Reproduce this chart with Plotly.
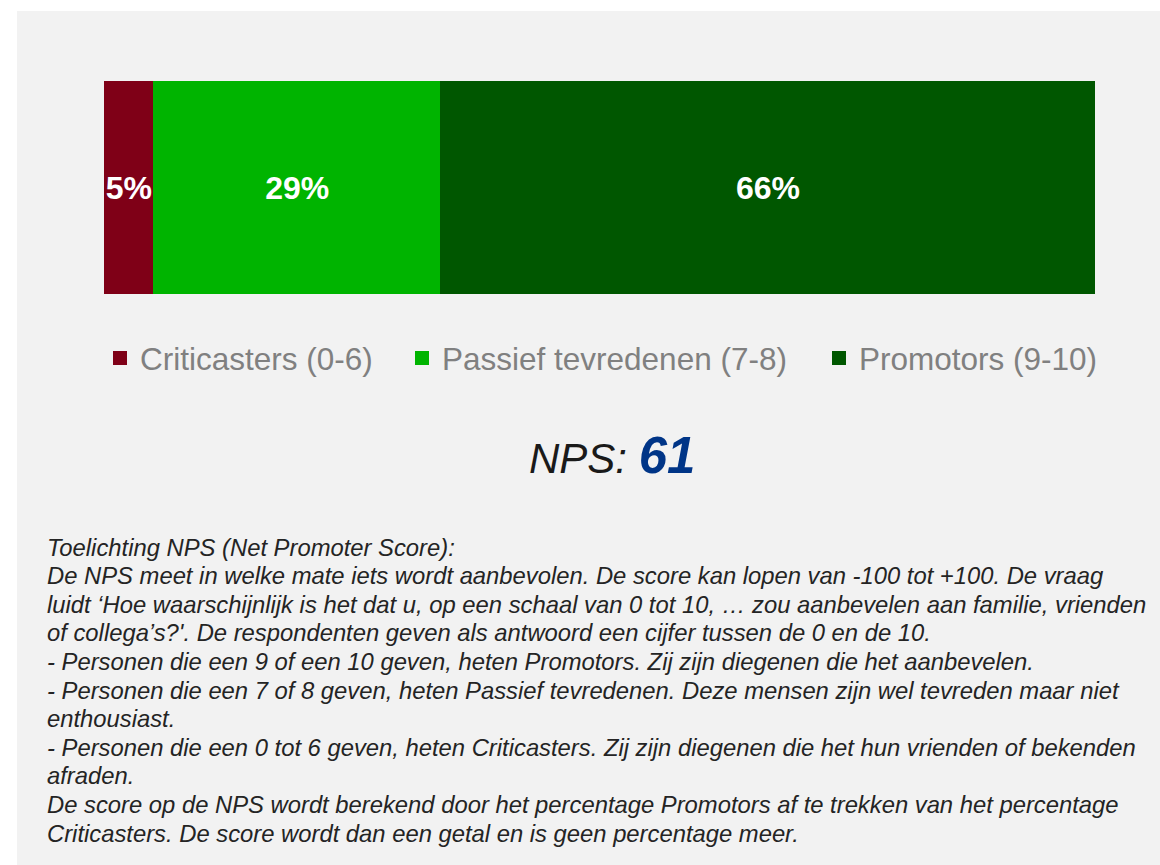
import plotly.graph_objects as go

categories = ["Criticasters (0-6)", "Passief tevredenen (7-8)", "Promotors (9-10)"]
values = [5, 29, 66]
colors = ["#7F0017", "#00B400", "#005700"]
nps_score = 61
explanation_lines = [
    "Toelichting NPS (Net Promoter Score):",
    "De NPS meet in welke mate iets wordt aanbevolen. De score kan lopen van -100 tot +100. De vraag",
    "luidt \u2018Hoe waarschijnlijk is het dat u, op een schaal van 0 tot 10, \u2026 zou aanbevelen aan familie, vrienden",
    "of collega\u2019s?'. De respondenten geven als antwoord een cijfer tussen de 0 en de 10.",
    "- Personen die een 9 of een 10 geven, heten Promotors. Zij zijn diegenen die het aanbevelen.",
    "- Personen die een 7 of 8 geven, heten Passief tevredenen. Deze mensen zijn wel tevreden maar niet",
    "enthousiast.",
    "- Personen die een 0 tot 6 geven, heten Criticasters. Zij zijn diegenen die het hun vrienden of bekenden",
    "afraden.",
    "De score op de NPS wordt berekend door het percentage Promotors af te trekken van het percentage",
    "Criticasters. De score wordt dan een getal en is geen percentage meer.",
]

FONT = "Liberation Sans, Arial, sans-serif"
OFF = 0  # body margin removed via post_script
W, H = 1160, 865
ML, MT = 104 - OFF, 81 - OFF
PW, PH = 991, 213
MR, MB = W - ML - PW, H - MT - PH


def px(xs):
    return (xs - OFF - ML) / PW


def py(ys):
    return (MT + PH - (ys - OFF)) / PH


legend_ids = ["legend", "legend2", "legend3"]
legend_x = [100, 402, 819]

fig = go.Figure()
for name, v, c, lid in zip(categories, values, colors, legend_ids):
    fig.add_trace(go.Bar(
        name=name, x=[v], y=[0], orientation="h", width=1, legend=lid,
        marker=dict(color=c, line=dict(width=2, color=c)),
        texttemplate="%{x}%", textposition="inside", insidetextanchor="middle",
        constraintext="none", textangle=0,
        insidetextfont=dict(family=FONT, size=32, color="white", weight="bold"),
        hoverinfo="skip",
    ))

fig.add_shape(type="rect", xref="paper", yref="paper", layer="below",
              x0=px(17), x1=px(1200), y0=py(900), y1=py(11),
              fillcolor="#F2F2F2", line=dict(width=0))

fig.add_annotation(
    xref="paper", yref="paper", x=px(612), y=py(455), xanchor="center", yanchor="middle",
    showarrow=False,
    text=f"<i>NPS: </i><b><i><span style='color:#003587;font-size:51px'>{nps_score}</span></i></b>",
    font=dict(family=FONT, size=42, color="#1A1A1A"),
)

line_h = 28.6
for i, line in enumerate(explanation_lines):
    fig.add_annotation(
        xref="paper", yref="paper", x=px(45), y=py(547 + i * line_h),
        xanchor="left", yanchor="middle", showarrow=False, align="left",
        text="<i>" + line + "</i>",
        font=dict(family=FONT, size=23.8, color="#242424"),
    )

legend_common = dict(orientation="h", yanchor="middle",
                     font=dict(family=FONT, size=31.5, color="#808080"),
                     bgcolor="rgba(0,0,0,0)", itemclick=False, itemdoubleclick=False,
                     xanchor="left")

fig.update_layout(
    width=W, height=H, barmode="stack",
    margin=dict(l=ML, r=MR, t=MT, b=MB),
    paper_bgcolor="white", plot_bgcolor="rgba(0,0,0,0)",
    showlegend=True,
    legend=dict(x=px(legend_x[0]), y=py(358), **legend_common),
    legend2=dict(x=px(legend_x[1]), y=py(358), **legend_common),
    legend3=dict(x=px(legend_x[2]), y=py(358), **legend_common),
    xaxis=dict(range=[0, 100], visible=False, fixedrange=True),
    yaxis=dict(range=[-0.5, 0.5], visible=False, fixedrange=True),
)

fig.write_html(
    "out.html",
    config={"displayModeBar": False, "staticPlot": False},
    post_script="document.body.style.margin='0';document.body.style.overflow='hidden';",
)
